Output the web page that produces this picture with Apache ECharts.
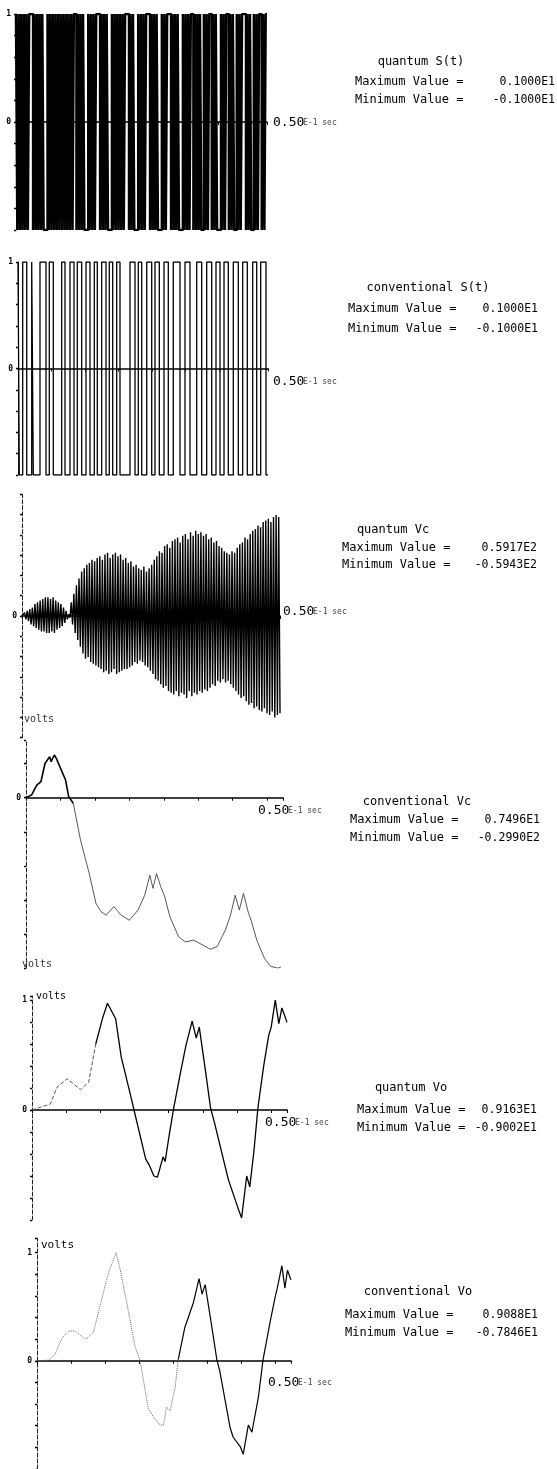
<!DOCTYPE html>
<html><head><meta charset="utf-8">
<script src="https://cdn.jsdelivr.net/npm/echarts@6/dist/echarts.min.js"></script>
<style>html,body{margin:0;padding:0;background:#fff}#c{width:557px;height:1469px}</style>
</head><body><div id="c"></div>
<script>
// ---------------- DATA ----------------
const T_END = 50; // ms (0.50E-1 sec)

// quantum S(t): clocked +1/-1 states, one character per clock period
const quantumSBits = "10101010101110101010100010101010101010101010110101010001010101110101010001010101010111010100010101011101010100010101110101010001010101101010100101011010100010101101010010101110101001010110101";

// conventional S(t): starts at +1, switching instants (ms)
const convSStart = 1;
const convSTransitions = [0.26,0.94,1.74,2.74,3.06,4.4,5.6,6.26,7.06,8.74,9.4,10.4,11.2,11.86,12.74,13.6,14.4,15.26,15.86,16.74,17.6,18.26,18.94,19.74,20.4,22.4,23.4,24.06,24.74,25.74,26.74,27.4,28.26,29.2,30.06,31.06,32.4,33.4,34.4,35.74,36.74,37.74,38.74,39.6,40.4,41.2,42.06,43.06,44.06,44.94,45.86,46.94,47.74,48.54,49.6];

// quantum Vc: successive positive and negative swing peaks (volts)
const vcQuantumUp = [0,2,3,4,5,7,8,9,10,11, 11,10,11,9,8,7,5,3,1,8, 13,18,22,26,28,30,31,33,32,34, 35,33,36,37,34,36,37,35,36,33, 34,31,32,29,30,28,27,29,26,28, 30,33,35,38,37,41,42,40,44,45, 46,43,47,48,45,49,47,50,48,49, 47,48,45,46,43,44,41,40,38,37, 36,38,37,40,42,43,46,45,48,50, 51,53,52,55,56,57,55,58,59.17,58];
const vcQuantumDown = [-1,-2,-3,-5,-6,-7,-8,-9,-9,-10, -10,-9,-10,-8,-7,-6,-4,-2,-1,-5, -10,-14,-18,-22,-25,-24,-27,-28,-29,-30, -31,-33,-32,-34,-33,-31,-34,-33,-32,-31, -31,-30,-29,-27,-28,-26,-27,-29,-30,-32, -34,-37,-38,-40,-42,-41,-44,-45,-46,-44, -47,-45,-46,-48,-44,-47,-45,-46,-44,-45, -43,-44,-42,-40,-41,-38,-39,-37,-39,-38, -40,-42,-44,-46,-48,-47,-50,-52,-51,-54, -53,-55,-56,-54,-57,-58,-56,-59.43,-58,-57];

// conventional Vc
const vcConvT = [0,1.1,2.1,2.9,3.7,4.6,4.9,5.5,5.9,6.7,7.7,8.3,9.2,10.6,12.3,13.6,14.6,15.6,17.1,18.5,20.1,21.8,23.1,24.1,24.7,25.4,26.2,27.0,28.0,29.7,31.0,32.6,34.3,35.9,37.2,38.8,39.8,40.7,41.5,42.3,43.3,43.8,44.9,46.4,47.6,49.0,49.6];
const vcConvV = [0,0.5,2.2,2.8,6.0,7.2,6.3,7.496,6.9,5.2,3.1,0.2,-1.0,-7.4,-13.3,-18.5,-20.0,-20.6,-19.1,-20.6,-21.5,-19.7,-17.1,-13.6,-15.9,-13.3,-15.6,-17.4,-20.9,-24.4,-25.3,-25.0,-25.8,-26.6,-26.1,-23.2,-20.6,-17.1,-19.7,-16.8,-20.3,-21.5,-25.0,-28.2,-29.6,-29.9,-29.7];

// quantum Vo
const voQuantT = [0,3.6,4.9,6.9,9.5,11.1,12.5,13.8,14.8,16.4,17.5,19.4,20.0,22.3,23.0,23.9,24.6,25.7,26.1,26.9,27.8,29.2,30.2,31.4,32.2,32.8,34.0,35.0,35.8,38.5,39.7,40.5,41.1,42.1,42.7,43.5,44.3,45.4,46.4,46.9,47.7,48.4,49.0,50.0];
const voQuantV = [0,0.5,1.9,2.6,1.7,2.3,5.5,7.6,8.9,7.6,4.4,1.1,0,-4.1,-4.6,-5.5,-5.6,-3.9,-4.3,-2.1,0.2,3.3,5.4,7.4,6.0,6.9,3.3,0.2,-1.1,-5.8,-7.3,-8.3,-9.002,-5.5,-6.4,-3.5,0.2,3.6,6.2,6.9,9.163,7.2,8.5,7.3];

// conventional Vo
const voConvT = [0,2.2,3.5,4.9,6.2,7.5,9.6,11.1,12.4,13.7,14.4,15.6,16.3,17.8,19.3,20.3,21.9,22.9,24.2,24.9,25.5,26.2,27.2,27.8,29.1,30.8,31.9,32.5,33.1,34.4,35.4,36.0,38.0,38.6,40.0,40.6,41.6,42.3,43.6,44.5,45.9,46.9,47.3,48.2,48.8,49.3,50.0];
const voConvV = [0,0.05,0.5,1.9,2.5,2.5,1.8,2.4,4.6,6.8,7.8,9.088,7.8,4.6,1.2,0,-4.0,-4.7,-5.4,-5.4,-3.9,-4.2,-2.2,0.1,2.8,4.9,6.9,5.6,6.4,2.9,0.1,-0.9,-5.6,-6.4,-7.2,-7.846,-5.4,-6.0,-3.0,0.1,3.3,5.4,6.1,8.0,6.1,7.6,6.8];

// texts
const panelTitles = ["quantum S(t)","conventional S(t)","quantum Vc","conventional Vc","quantum Vo","conventional Vo"];
const maxLabels = ["0.1000E1","0.1000E1","0.5917E2","0.7496E1","0.9163E1","0.9088E1"];
const minLabels = ["-0.1000E1","-0.1000E1","-0.5943E2","-0.2990E2","-0.9002E1","-0.7846E1"];
const xEndLabel = ["0.50","E-1 sec"];
const unitLabel = "volts";

// ---------------- LAYOUT ----------------
const L = [
  {left:16,width:251,zero:122,ppu:108,min:-1,max:1,iv:0.2,one:1,dash:false},
  {left:18,width:250,zero:368.5,ppu:106.5,min:-1,max:1,iv:0.2,one:1,dash:false},
  {left:22,width:258,zero:616,ppu:1.707,min:-71.316,max:71.316,iv:11.886,one:null,dash:true},
  {left:26,width:257,zero:797.7,ppu:5.7,min:-29.9,max:10,iv:5.98,one:null,dash:true},
  {left:32,width:255,zero:1110,ppu:12,min:-9.163,max:9.5,iv:1.8326,one:9.163,dash:true},
  {left:37,width:254,zero:1369,ppu:12.7,min:-9.088,max:10.3,iv:1.8176,one:9.088,dash:true}
];
const TXT = [
  {tc:421,ty:62,lx:355,rx:555,my:82,ny:100, ex:273,ey:123},
  {tc:428,ty:288,lx:348,rx:538,my:309,ny:329, ex:273,ey:382},
  {tc:393,ty:530,lx:342,rx:537,my:548,ny:565, ex:283,ey:612},
  {tc:417,ty:802,lx:350,rx:540,my:820,ny:838, ex:258,ey:811},
  {tc:411,ty:1088,lx:357,rx:537,my:1110,ny:1128, ex:265,ey:1123},
  {tc:418,ty:1292,lx:345,rx:538,my:1315,ny:1333, ex:268,ey:1383}
];
const MONO = '"DejaVu Sans Mono", "Liberation Mono", monospace';

// ---------------- BUILD ----------------
function stepFromBits(bits){
  const n = bits.length, dt = T_END / n; const pts = []; let prev = null;
  for (let i = 0; i < n; i++){ const v = bits[i] === '1' ? 1 : -1; if (v !== prev){ pts.push([i*dt, v]); prev = v; } }
  pts.push([T_END, prev]); return pts;
}
function stepFromTransitions(start, tr){
  let v = start; const pts = [[0, v]];
  tr.forEach(t => { v = -v; pts.push([t, v]); });
  pts.push([T_END, v]); return pts;
}
function zip(t, v, a, b){ const out = []; for (let i = a; i <= b; i++) out.push([t[i], v[i]]); return out; }
const vcqSamples = [];
for (let i = 0; i < vcQuantumUp.length; i++){ vcqSamples.push(vcQuantumUp[i]); vcqSamples.push(vcQuantumDown[i]); }
const vcqData = vcqSamples.map((v, k) => [k * T_END / (vcqSamples.length - 1), v]);

const grids = [], xAxes = [], yAxes = [];
L.forEach((p, i) => {
  grids.push({left:p.left, width:p.width, top:p.zero - p.max*p.ppu, height:(p.max - p.min)*p.ppu, containLabel:false});
  xAxes.push({type:'value', gridIndex:i, min:0, max:T_END, interval:6.7,
    axisLine:{onZero:true, lineStyle:{color:'#000', width:1.6}},
    axisTick:{show:true, length:3, lineStyle:{color:'#000', width:1}},
    axisLabel:{show:false}, splitLine:{show:false}});
  yAxes.push({type:'value', gridIndex:i, min:p.min, max:p.max, interval:p.iv,
    axisLine:{show:true, lineStyle:{color:'#222', width:1, type: p.dash ? [4,2] : 'solid'}},
    axisTick:{show:true, length:2, lineStyle:{color:'#000', width:1.4}},
    axisLabel:{show:true, fontSize:8, fontWeight:'bold', fontFamily:MONO, color:'#000', margin:5,
      formatter: v => Math.abs(v) < 1e-6 ? '0' : (p.one !== null && Math.abs(v - p.one) < 1e-4 ? '1' : '')},
    splitLine:{show:false}});
});

const base = {type:'line', showSymbol:false, symbol:'none', animation:false};
const series = [
  Object.assign({}, base, {xAxisIndex:0, yAxisIndex:0, step:'end', data:stepFromBits(quantumSBits), lineStyle:{color:'#000', width:2.5}}),
  Object.assign({}, base, {xAxisIndex:1, yAxisIndex:1, step:'end', data:stepFromTransitions(convSStart, convSTransitions), lineStyle:{color:'#000', width:1.3}}),
  Object.assign({}, base, {xAxisIndex:2, yAxisIndex:2, data:vcqData, lineStyle:{color:'#000', width:1.4}}),
  Object.assign({}, base, {xAxisIndex:3, yAxisIndex:3, data:zip(vcConvT, vcConvV, 0, 12), lineStyle:{color:'#000', width:1.6}}),
  Object.assign({}, base, {xAxisIndex:3, yAxisIndex:3, data:zip(vcConvT, vcConvV, 12, vcConvT.length-1), lineStyle:{color:'#444', width:0.9}}),
  Object.assign({}, base, {xAxisIndex:4, yAxisIndex:4, data:zip(voQuantT, voQuantV, 0, 6), lineStyle:{color:'#555', width:1, type:'dashed'}}),
  Object.assign({}, base, {xAxisIndex:4, yAxisIndex:4, data:zip(voQuantT, voQuantV, 6, voQuantT.length-1), lineStyle:{color:'#000', width:1.3}}),
  Object.assign({}, base, {xAxisIndex:5, yAxisIndex:5, data:zip(voConvT, voConvV, 0, 23), lineStyle:{color:'#666', width:1, type:'dotted'}}),
  Object.assign({}, base, {xAxisIndex:5, yAxisIndex:5, data:zip(voConvT, voConvV, 23, voConvT.length-1), lineStyle:{color:'#000', width:1.2}})
];

function txt(x, y, s, size, align, color){
  return {type:'text', x:x, y:y, silent:true, z:10,
    style:{text:s, fontSize:size, fontFamily:MONO, fill:color || '#000',
      textAlign:align, align:align, textVerticalAlign:'middle', verticalAlign:'middle'}};
}
const g = [];
TXT.forEach((q, i) => {
  g.push(txt(q.tc, q.ty, panelTitles[i], 12, 'center'));
  g.push(txt(q.lx, q.my, 'Maximum Value =', 12, 'left'));
  g.push(txt(q.rx, q.my, maxLabels[i], 11.5, 'right'));
  g.push(txt(q.lx, q.ny, 'Minimum Value =', 12, 'left'));
  g.push(txt(q.rx, q.ny, minLabels[i], 11.5, 'right'));
  g.push(txt(q.ex, q.ey, xEndLabel[0], 13, 'left'));
  g.push(txt(q.ex + 30, q.ey, xEndLabel[1], 8, 'left', '#444'));
});
g.push(txt(24, 719, unitLabel, 10, 'left', '#333'));
g.push(txt(22, 964, unitLabel, 10, 'left', '#333'));
g.push(txt(36, 996, unitLabel, 10, 'left', '#000'));
g.push(txt(41, 1245, unitLabel, 11, 'left', '#000'));

const chart = echarts.init(document.getElementById('c'), null, {renderer:'canvas'});
chart.setOption({animation:false, backgroundColor:'#fff', grid:grids, xAxis:xAxes, yAxis:yAxes, series:series, graphic:{elements:g}});
</script></body></html>
